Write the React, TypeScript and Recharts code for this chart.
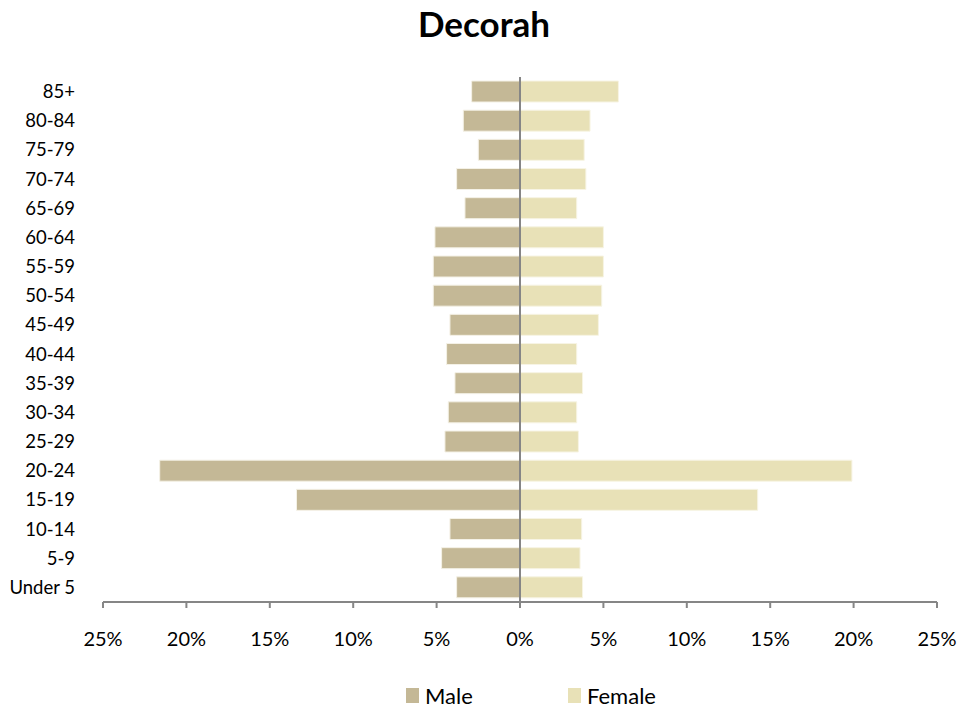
import React from "react";
import {
  Bar,
  BarChart,
  Legend,
  ReferenceLine,
  XAxis,
  YAxis,
} from "recharts";

const MALE_FILL = "#C4B896";
const FEMALE_FILL = "#E8E1B7";
const AXIS_STROKE = "#868686";
const FONT = "Lato, 'Open Sans', sans-serif";

// top row first, as drawn
const AGE_GROUPS = [
  "85+",
  "80-84",
  "75-79",
  "70-74",
  "65-69",
  "60-64",
  "55-59",
  "50-54",
  "45-49",
  "40-44",
  "35-39",
  "30-34",
  "25-29",
  "20-24",
  "15-19",
  "10-14",
  "5-9",
  "Under 5",
];

// percent of each sex
const MALE_PCT = [
  2.9, 3.4, 2.5, 3.8, 3.3, 5.1, 5.2, 5.2, 4.2, 4.4, 3.9, 4.3, 4.5, 21.6, 13.4,
  4.2, 4.7, 3.8,
];
const FEMALE_PCT = [
  5.9, 4.2, 3.85, 3.95, 3.4, 5.0, 5.0, 4.9, 4.7, 3.4, 3.75, 3.4, 3.5, 19.9,
  14.25, 3.7, 3.6, 3.75,
];

const X_TICKS = [-25, -20, -15, -10, -5, 0, 5, 10, 15, 20, 25];

interface Row {
  age: string;
  male: number;
  female: number;
}

const rows: Row[] = AGE_GROUPS.map((age, i) => ({
  age,
  female: FEMALE_PCT[i],
  male: -MALE_PCT[i],
}));

const formatPct = function formatPct(v: number): string {
  return `${Math.abs(v)}%`;
};

const PyramidLegend = function PyramidLegend() {
  const item = (color: string, label: string, width: number) => (
    <span
      style={{
        alignItems: "center",
        display: "inline-flex",
        gap: 6,
        width,
      }}
    >
      <span
        style={{
          background: color,
          display: "inline-block",
          height: 15,
          width: 13,
        }}
      />
      {label}
    </span>
  );
  return (
    <div
      style={{
        color: "#000",
        display: "flex",
        fontFamily: FONT,
        fontSize: 22,
        justifyContent: "flex-start",
        paddingLeft: 406,
        paddingTop: 18,
      }}
    >
      {item(MALE_FILL, "Male", 162)}
      {item(FEMALE_FILL, "Female", 110)}
    </div>
  );
};

export default function App() {
  return (
    <div
      style={{
        background: "#fff",
        height: 713,
        left: 0,
        position: "absolute",
        top: 0,
        width: 979,
      }}
    >
      <div
        style={{
          fontFamily: FONT,
          fontSize: 35,
          fontWeight: 700,
          left: 0,
          position: "absolute",
          textAlign: "center",
          top: 2,
          width: 968,
        }}
      >
        Decorah
      </div>
      <BarChart
        width={979}
        height={713}
        data={rows}
        layout="vertical"
        stackOffset="sign"
        barSize={21}
        margin={{ bottom: 0, left: 0, right: 42, top: 77 }}
      >
        <XAxis
          type="number"
          domain={[-25, 25]}
          ticks={X_TICKS}
          interval={0}
          tickFormatter={formatPct}
          axisLine={{ stroke: AXIS_STROKE, strokeWidth: 2 }}
          tickLine={{ stroke: AXIS_STROKE, strokeWidth: 2 }}
          tickSize={6}
          tickMargin={24}
          tick={{ fill: "#000", fontFamily: FONT, fontSize: 20 }}
          height={62}
        />
        <YAxis
          type="category"
          dataKey="age"
          width={103}
          axisLine={false}
          tickLine={false}
          tickMargin={22}
          tick={{ fill: "#000", fontFamily: FONT, fontSize: 18.5 }}
          interval={0}
        />
        <Bar
          dataKey="male"
          stackId="pop"
          fill={MALE_FILL}
          stroke="#f4f1e6"
          strokeWidth={1}
          isAnimationActive={false}
        />
        <Bar
          dataKey="female"
          stackId="pop"
          fill={FEMALE_FILL}
          stroke="#f7f4e4"
          strokeWidth={1}
          isAnimationActive={false}
        />
        <ReferenceLine x={0} stroke={AXIS_STROKE} strokeWidth={2} />
        <Legend
          verticalAlign="bottom"
          height={49}
          content={PyramidLegend}
        />
      </BarChart>
    </div>
  );
}
